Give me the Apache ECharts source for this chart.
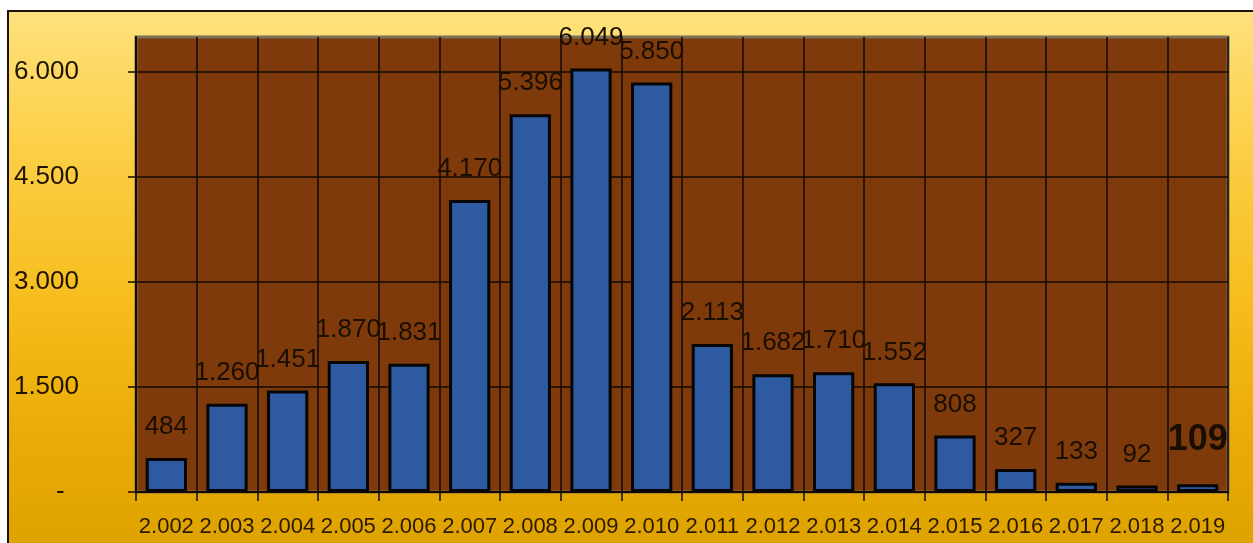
<!doctype html>
<html lang="es">
  <head>
    <meta charset="UTF-8" />
    <title>Chart</title>
    <script src="https://cdn.jsdelivr.net/npm/echarts/dist/echarts.min.js"></script>
    <style>
      body {
        margin: 0;
        padding: 0;
        background: #fff;
      }
      .frame {
        position: absolute;
        left: 7px;
        top: 10px;
        width: 1246px;
        height: 533px;
        box-sizing: border-box;
        border-top: 2px solid #1a1208;
        border-left: 2px solid #1a1208;
        background: linear-gradient(to bottom, #fee27c 0%, #fccf48 25%, #f6bd1c 55%, #eaab06 80%, #dea300 100%);
      }
      .main {
        position: absolute;
        left: 0;
        top: 0;
        width: 1253px;
        height: 543px;
      }
    </style>
  </head>
  <body>
    <div class="frame"></div>
    <div class="main"></div>
    <script>
      // años (con formato de miles, como en el original)
      const years = [
        "2.002", "2.003", "2.004", "2.005", "2.006", "2.007", "2.008", "2.009", "2.010",
        "2.011", "2.012", "2.013", "2.014", "2.015", "2.016", "2.017", "2.018", "2.019",
      ];
      const values = [484, 1260, 1451, 1870, 1831, 4170, 5396, 6049, 5850, 2113, 1682, 1710, 1552, 808, 327, 133, 92, 109];

      const font = '"Liberation Sans", Arial, sans-serif';

      // 1260 -> "1.260"
      const fmt = (v) => String(v).replace(/\B(?=(\d{3})+(?!\d))/g, ".");

      const myChart = echarts.init(document.querySelector(".main"));

      const option = {
        backgroundColor: "transparent",
        animation: false,
        grid: {
          left: 136,
          right: 25,
          top: 37,
          bottom: 51,
          show: true,
          backgroundColor: "#7e3a0b",
          borderColor: "#7d6f58",
          borderWidth: 3,
        },
        xAxis: {
          type: "category",
          data: years,
          axisLine: { lineStyle: { color: "#140a02", width: 2 } },
          axisTick: { show: true, length: 9, lineStyle: { color: "#140a02", width: 1.5 } },
          axisLabel: {
            interval: 0,
            margin: 24,
            color: "#2a1800",
            fontFamily: font,
            fontSize: 22,
          },
          splitLine: { show: true, interval: 0, lineStyle: { color: "#140a02", width: 1.5 } },
        },
        yAxis: {
          type: "value",
          min: 0,
          max: 6500,
          interval: 1500,
          axisLine: { show: true, lineStyle: { color: "#140a02", width: 2 } },
          axisTick: { show: true, length: 8, lineStyle: { color: "#140a02", width: 1.5 } },
          axisLabel: {
            margin: 57,
            color: "#1e1200",
            fontFamily: font,
            fontSize: 26,
            showMaxLabel: false,
            formatter: (v) => (v === 0 ? "-  " : v % 1500 === 0 ? fmt(v) : ""),
          },
          splitLine: { show: true, showMaxLine: false, lineStyle: { color: "#140a02", width: 1.5 } },
        },
        series: [
          {
            type: "bar",
            barWidth: "68%",
            data: values.map((v, i) =>
              i === values.length - 1
                ? { value: v, label: { fontWeight: "bold", fontSize: 36, distance: 26 } }
                : v
            ),
            itemStyle: { color: "#2e5aa2", borderColor: "#050505", borderWidth: 3 },
            label: {
              show: true,
              position: "top",
              distance: 18,
              color: "#1a0e00",
              fontFamily: font,
              fontSize: 26,
              formatter: (p) => fmt(p.value),
            },
          },
        ],
      };

      myChart.setOption(option);
    </script>
  </body>
</html>
